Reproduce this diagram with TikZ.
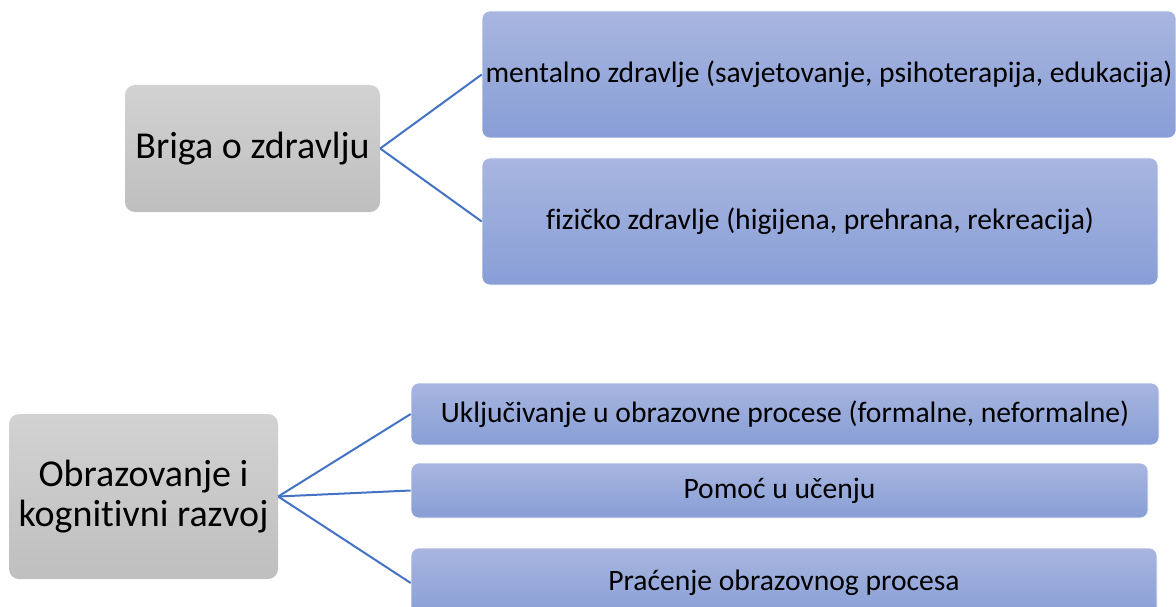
\documentclass[tikz,border=0pt]{standalone}
\usepackage{fontspec}
\setmainfont{Carlito}[Ligatures=NoCommon]
\definecolor{linkblue}{RGB}{68,114,196}
\definecolor{bluetop}{RGB}{168,182,224}
\definecolor{bluebot}{RGB}{136,158,214}
\definecolor{graytop}{RGB}{210,210,210}
\definecolor{graybot}{RGB}{191,191,191}
\begin{document}
\begin{tikzpicture}
        [x=1pt, y=-1pt,
        topic/.style={rectangle, rounded corners=10pt, top color=graytop, bottom color=graybot,
            font=\fontsize{38}{40}\selectfont, align=center, inner sep=0pt},
        item/.style={rectangle, rounded corners=8pt, top color=bluetop, bottom color=bluebot,
            draw=white, line width=0.6pt, font=\fontsize{29.6}{32}\selectfont, inner sep=0pt},
        link/.style={linkblue, line width=2pt}]

        \useasboundingbox (0,0) rectangle (1176,607);
        \clip (0,0) rectangle (1176,607);

        % first group
        \node[topic, minimum width=255, minimum height=127] (briga) at (252.5,148.5) {Briga o zdravlju};
        \node[item, minimum width=694, minimum height=127] (mental) at (829,74.5) {mentalno zdravlje (savjetovanje, psihoterapija, edukacija)};
        \node[item, minimum width=676, minimum height=127] (fizicko) at (820,221.5) {fizičko zdravlje (higijena, prehrana, rekreacija)};

        \draw[link] (briga.east) -- (mental.west);
        \draw[link] (briga.east) -- (fizicko.west);

        % second group
        \node[topic, minimum width=269, minimum height=165] (obraz) at (143.5,496.5) {Obrazovanje i\\kognitivni razvoj};
        \node[item, minimum width=748, minimum height=62] (uklj) at (785,414) {Uključivanje u obrazovne procese (formalne, neformalne)};
        \node[item, minimum width=737, minimum height=55] (pomoc) at (779.5,490.5) {Pomoć u učenju};
        \node[item, minimum width=746, minimum height=70] (pracenje) at (784,583) {Praćenje obrazovnog procesa};

        \draw[link] (obraz.east) -- (uklj.west);
        \draw[link] (obraz.east) -- (pomoc.west);
        \draw[link] (obraz.east) -- (pracenje.west);
    \end{tikzpicture}
\end{document}
